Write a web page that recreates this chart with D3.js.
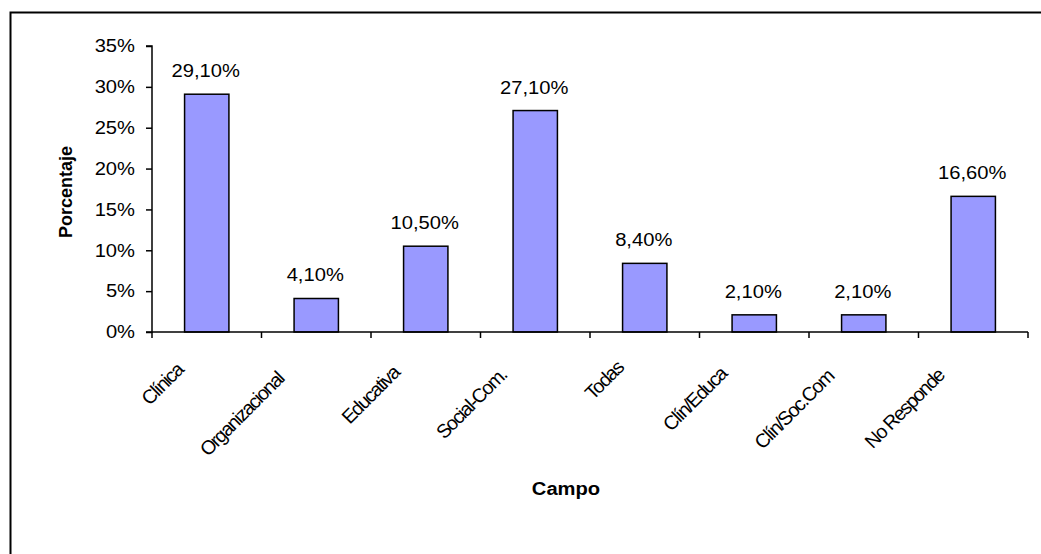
<!DOCTYPE html>
<html>
<head>
<meta charset="utf-8">
<script src="https://cdn.jsdelivr.net/npm/d3@7"></script>
<style>
  html, body { margin: 0; padding: 0; background: #fff; }
  svg { display: block; font-family: Arial, "Liberation Sans", sans-serif; }
</style>
</head>
<body>
<svg id="chart" width="1041" height="554"></svg>
<script>
// Campo de interés (porcentaje de respuestas)
const categories = ["Clínica", "Organizacional", "Educativa", "Social-Com.", "Todas", "Clín/Educa", "Clín/Soc.Com", "No Responde"];
const values = [29.1, 4.1, 10.5, 27.1, 8.4, 2.1, 2.1, 16.6];
const valueLabels = ["29,10%", "4,10%", "10,50%", "27,10%", "8,40%", "2,10%", "2,10%", "16,60%"];
const yTicks = [0, 5, 10, 15, 20, 25, 30, 35];

const FONT = "Arial, 'Liberation Sans', sans-serif";
const WIDEN = 1.12; // text is set slightly wide

const svg = d3.select("#chart");

// stretch a text selection horizontally by WIDEN, keeping its anchor
function widen(sel) {
  sel.each(function () {
    const w = this.getComputedTextLength();
    if (w > 0) {
      d3.select(this).attr("textLength", w * WIDEN).attr("lengthAdjust", "spacingAndGlyphs");
    }
  });
}

// outer frame
svg.append("rect")
  .attr("x", 10.5).attr("y", 12.5)
  .attr("width", 1100).attr("height", 600)
  .attr("fill", "none").attr("stroke", "#000").attr("stroke-width", 2);

const plotLeft = 152, plotRight = 1028, plotTop = 46, plotBottom = 332;

const x = d3.scaleBand().domain(categories).range([plotLeft, plotRight]).paddingInner(0).paddingOuter(0);
const y = d3.scaleLinear().domain([0, 35]).range([plotBottom, plotTop]);
const barW = x.bandwidth() * 0.405;

// bars
svg.append("g").selectAll("rect").data(values).join("rect")
  .attr("x", (d, i) => x(categories[i]) + (x.bandwidth() - barW) / 2)
  .attr("y", d => y(d))
  .attr("width", barW)
  .attr("height", d => y(0) - y(d))
  .attr("fill", "#9999ff")
  .attr("stroke", "#000")
  .attr("stroke-width", 1.5);

// value labels
svg.append("g").selectAll("text").data(values).join("text")
  .attr("x", (d, i) => x(categories[i]) + x.bandwidth() / 2 - 1)
  .attr("y", d => y(d) - 17)
  .attr("text-anchor", "middle")
  .attr("font-size", 18)
  .attr("fill", "#000")
  .text((d, i) => valueLabels[i])
  .call(widen);

// y axis
const yAxis = d3.axisLeft(y).tickValues(yTicks).tickSize(6).tickPadding(11)
  .tickFormat(d => d + "%");
const gy = svg.append("g").attr("transform", `translate(${plotLeft},0)`).call(yAxis);
gy.select(".domain").attr("stroke", "#000").attr("stroke-width", 1.5).attr("d", `M-6,${plotTop}H0V${plotBottom}H-6`);
gy.selectAll(".tick line").attr("stroke", "#000").attr("stroke-width", 1.5);
gy.selectAll(".tick text").attr("font-size", 18).attr("font-family", FONT).attr("fill", "#000").call(widen);

// x axis line and boundary ticks
const boundaries = categories.map(c => x(c)).concat([plotRight]);
svg.append("line")
  .attr("x1", plotLeft).attr("x2", plotRight).attr("y1", plotBottom).attr("y2", plotBottom)
  .attr("stroke", "#000").attr("stroke-width", 1.5);
svg.append("g").selectAll("line").data(boundaries).join("line")
  .attr("x1", d => d).attr("x2", d => d)
  .attr("y1", plotBottom).attr("y2", plotBottom + 6)
  .attr("stroke", "#000").attr("stroke-width", 1.5);

// category labels, rotated -45deg: each label is placed from its natural
// width at 20px, then drawn condensed
const probe = svg.append("text").attr("font-size", 20).attr("font-family", FONT);
const natural = categories.map(c => probe.text(c).node().getComputedTextLength());
probe.remove();

svg.append("g").selectAll("text").data(categories).join("text")
  .attr("transform", d => `translate(${x(d) + x.bandwidth() / 2 - 14},${plotBottom + 31}) rotate(-45)`)
  .attr("x", (d, i) => -natural[i])
  .attr("text-anchor", "start")
  .attr("font-size", 19.5)
  .attr("letter-spacing", -1.5)
  .attr("fill", "#000")
  .text(d => d);

// axis titles
svg.append("text")
  .attr("x", 566).attr("y", 495)
  .attr("text-anchor", "middle")
  .attr("font-size", 18).attr("font-weight", "bold")
  .text("Campo")
  .call(widen);

svg.append("text")
  .attr("transform", "translate(72,192) rotate(-90)")
  .attr("text-anchor", "middle")
  .attr("font-size", 18).attr("font-weight", "bold")
  .text("Porcentaje");
</script>
</body>
</html>
